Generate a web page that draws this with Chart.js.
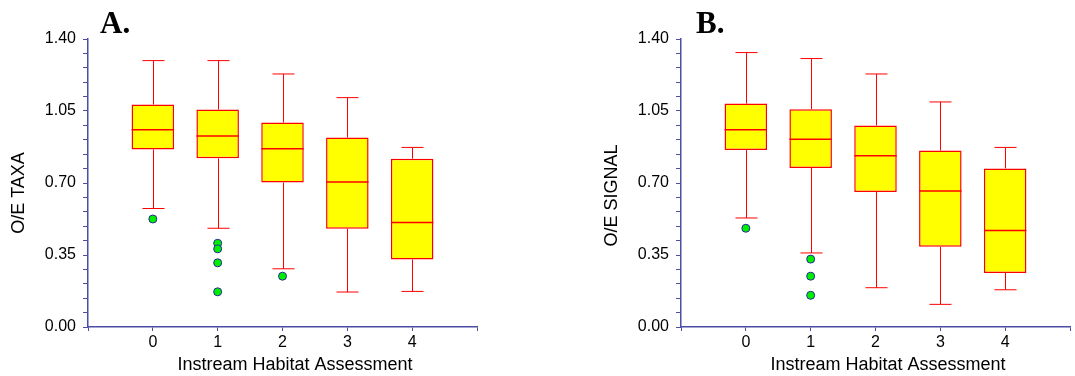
<!DOCTYPE html>
<html>
<head>
<meta charset="utf-8">
<script src="https://cdn.jsdelivr.net/npm/chart.js@4.4.0/dist/chart.umd.min.js"></script>
<style>
  body { margin: 0; background: #fff; }
  #cajaA { position: absolute; left: 0; top: 0; }
  #cajaB { position: absolute; left: 537px; top: 0; }
</style>
</head>
<body>
<div id="cajaA"><canvas id="graficoA" width="537" height="376"></canvas></div>
<div id="cajaB"><canvas id="graficoB" width="538" height="376"></canvas></div>
<script>
const categorias = [0, 1, 2, 3, 4];
const etiquetasX = ['0', '1', '2', '3', '4'];
const etiquetasY = [0, 0.35, 0.70, 1.05, 1.40];

// A. O/E TAXA
const taxaMax = [1.295, 1.295, 1.230, 1.115, 0.873];
const taxaQ3 = [1.081, 1.057, 0.994, 0.921, 0.818];
const taxaMed = [0.959, 0.928, 0.866, 0.705, 0.508];
const taxaQ1 = [0.863, 0.820, 0.702, 0.477, 0.328];
const taxaMin = [0.576, 0.480, 0.283, 0.170, 0.173];
const taxaAtipX = [0, 1, 1, 1, 1, 2];
const taxaAtipY = [0.525, 0.407, 0.380, 0.312, 0.171, 0.247];

// B. O/E SIGNAL
const signalMax = [1.334, 1.305, 1.230, 1.094, 0.873];
const signalQ3 = [1.086, 1.059, 0.980, 0.858, 0.771];
const signalMed = [0.959, 0.913, 0.833, 0.661, 0.469];
const signalQ1 = [0.860, 0.773, 0.656, 0.390, 0.263];
const signalMin = [0.530, 0.360, 0.191, 0.110, 0.181];
const signalAtipX = [0, 1, 1, 1];
const signalAtipY = [0.480, 0.330, 0.247, 0.154];

const colorEje = '#4d4da6';
const rojo = '#ff0000';

// bigotes y mediana usando las escalas del grafico
const bigotes = (minimo, q1, mediana, q3, maximo) => ({
  id: 'bigotes',
  beforeDatasetsDraw(chart) {
    const { ctx, scales: { x, y } } = chart;
    ctx.save();
    ctx.strokeStyle = rojo;
    ctx.lineWidth = 1;
    categorias.forEach((c, i) => {
      const px = Math.round(x.getPixelForValue(c)) + 0.5;
      const tapa = x.getPixelForValue(c + 0.17) - x.getPixelForValue(c);
      const yMax = y.getPixelForValue(maximo[i]);
      const yMin = y.getPixelForValue(minimo[i]);
      ctx.beginPath();
      ctx.moveTo(px, yMax); ctx.lineTo(px, y.getPixelForValue(q3[i]));
      ctx.moveTo(px, y.getPixelForValue(q1[i])); ctx.lineTo(px, yMin);
      ctx.moveTo(px - tapa, yMax); ctx.lineTo(px + tapa, yMax);
      ctx.moveTo(px - tapa, yMin); ctx.lineTo(px + tapa, yMin);
      ctx.stroke();
    });
    ctx.restore();
  },
  afterDatasetsDraw(chart) {
    const { ctx, scales: { x, y } } = chart;
    ctx.save();
    ctx.strokeStyle = rojo;
    ctx.lineWidth = 1.5;
    categorias.forEach((c, i) => {
      const ym = y.getPixelForValue(mediana[i]);
      ctx.beginPath();
      ctx.moveTo(x.getPixelForValue(c - 0.328), ym);
      ctx.lineTo(x.getPixelForValue(c + 0.328), ym);
      ctx.stroke();
    });
    ctx.restore();
  }
});

// letra del panel
const letraPanel = (letra, xLetra) => ({
  id: 'letraPanel',
  afterDraw(chart) {
    const ctx = chart.ctx;
    ctx.save();
    ctx.font = 'bold 31px "Liberation Serif", "Times New Roman", serif';
    ctx.fillStyle = '#000';
    ctx.textBaseline = 'alphabetic';
    ctx.fillText(letra, xLetra, 33);
    ctx.restore();
  }
});

const crearPanel = (idCanvas, p) => {
  const datosCaja = categorias.map((c, i) => ({ x: c, y: [p.q1[i], p.q3[i]] }));
  const datosAtip = p.atipX.map((x, i) => ({ x: x, y: p.atipY[i] }));
  new Chart(document.getElementById(idCanvas), {
    type: 'bar',
    data: {
      datasets: [
        {
          type: 'bar',
          data: datosCaja,
          backgroundColor: '#ffff00',
          borderColor: rojo,
          borderWidth: 1.5,
          borderSkipped: false,
          categoryPercentage: 0.8,
          barPercentage: 0.82,
        },
        {
          type: 'scatter',
          data: datosAtip,
          pointRadius: 4,
          pointBackgroundColor: '#00ee00',
          pointBorderColor: '#2a2a9a',
          pointBorderWidth: 1,
        }
      ]
    },
    options: {
      responsive: false,
      animation: false,
      devicePixelRatio: 1,
      layout: { padding: { top: 39, right: p.padDer, left: 0, bottom: 0 } },
      plugins: { legend: { display: false }, tooltip: { enabled: false } },
      scales: {
        x: {
          type: 'linear',
          min: -1, max: 5,
          offset: false,
          afterBuildTicks: (s) => { s.ticks = [-1, 0, 1, 2, 3, 4, 5].map(v => ({ value: v })); },
          afterFit: (s) => { s.height = 49; },
          ticks: {
            autoSkip: false, maxRotation: 0,
            callback: (v) => etiquetasX[categorias.indexOf(v)] || '',
            font: { family: '"Liberation Sans", Arial, sans-serif', size: 16 },
            color: '#000', padding: 2,
          },
          grid: { drawOnChartArea: false, offset: false, color: colorEje, tickLength: 4 },
          border: { color: colorEje, width: 1.5 },
          title: {
            display: true, text: '     Instream Habitat Assessment', color: '#000',
            font: { family: '"Liberation Sans", Arial, sans-serif', size: 18 },
            padding: { top: 0, bottom: 0 },
          }
        },
        y: {
          min: 0, max: 1.4,
          afterBuildTicks: (s) => {
            const t = [];
            for (let i = 0; i <= 20; i++) t.push({ value: +(i * 0.07).toFixed(2) });
            s.ticks = t;
          },
          afterFit: (s) => { s.width = p.anchoEje; },
          ticks: {
            autoSkip: false,
            callback: (v) => etiquetasY.some(e => Math.abs(e - v) < 1e-6) ? v.toFixed(2) : '',
            font: { family: '"Liberation Sans", Arial, sans-serif', size: 16 },
            color: '#000', padding: 7,
          },
          grid: { drawOnChartArea: false, color: colorEje, tickLength: 5 },
          border: { color: colorEje, width: 1.5 },
          title: {
            display: true, text: p.tituloY, color: '#000',
            font: { family: '"Liberation Sans", Arial, sans-serif', size: 18 },
            padding: { top: p.padTitulo, bottom: 0 },
          }
        }
      }
    },
    plugins: [bigotes(p.min, p.q1, p.med, p.q3, p.max), letraPanel(p.letra, p.xLetra)]
  });
};

crearPanel('graficoA', {
  letra: 'A.', xLetra: 100, tituloY: 'O/E TAXA    ',
  anchoEje: 88, padDer: 60, padTitulo: 8,
  min: taxaMin, q1: taxaQ1, med: taxaMed, q3: taxaQ3, max: taxaMax,
  atipX: taxaAtipX, atipY: taxaAtipY,
});

crearPanel('graficoB', {
  letra: 'B.', xLetra: 159, tituloY: 'O/E SIGNAL     ',
  anchoEje: 144, padDer: 1, padTitulo: 64,
  min: signalMin, q1: signalQ1, med: signalMed, q3: signalQ3, max: signalMax,
  atipX: signalAtipX, atipY: signalAtipY,
});
</script>
</body>
</html>
